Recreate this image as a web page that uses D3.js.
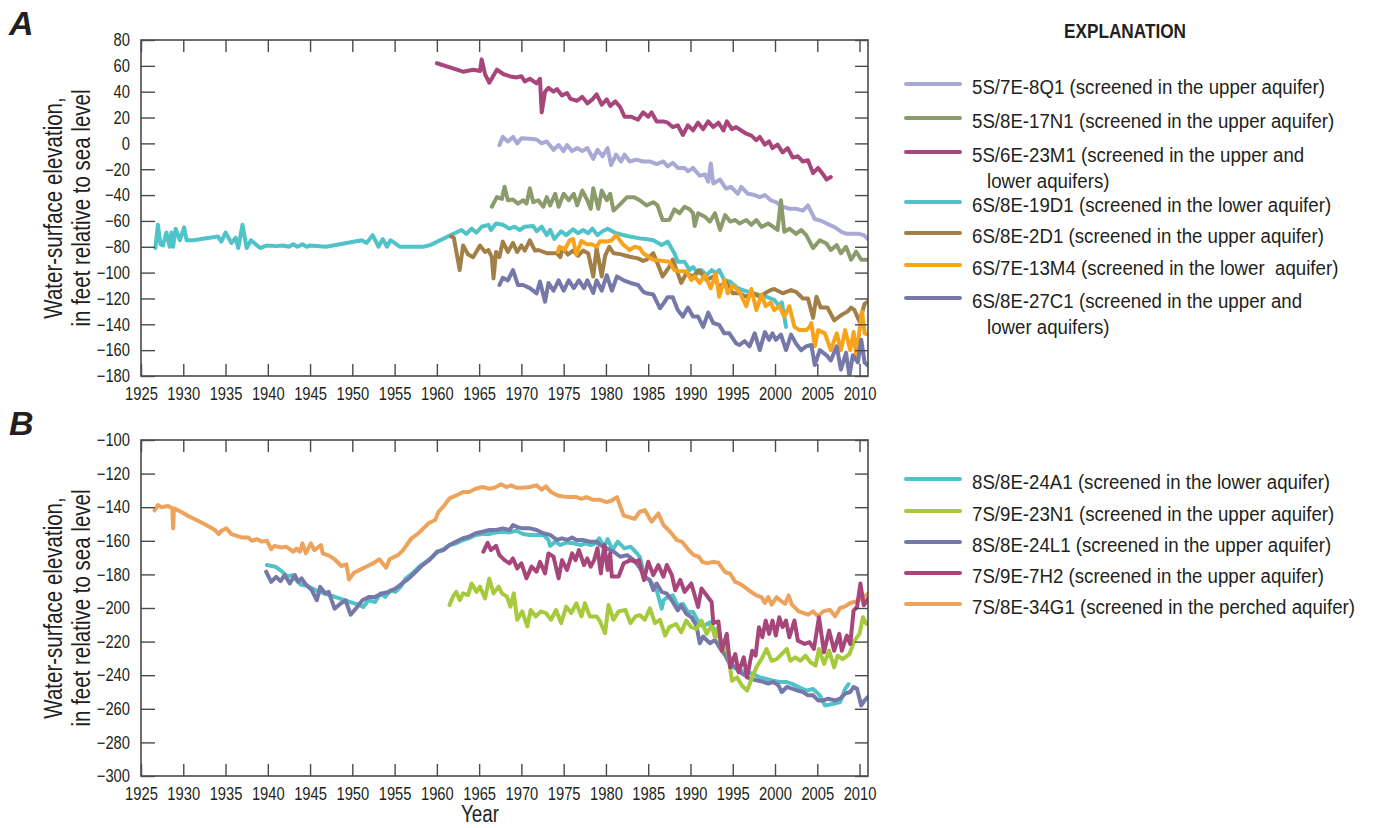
<!DOCTYPE html>
<html>
<head>
<meta charset="utf-8">
<script src="https://cdn.jsdelivr.net/npm/d3@7"></script>
<style>
  html, body { margin: 0; padding: 0; background: #fff; }
  svg text { fill: #231f20; font-family: "Liberation Sans", Arial, sans-serif; }
</style>
</head>
<body>
<svg id="chart" width="1374" height="828"></svg>
<script>
// ---- Water-level records, panel A (year, feet relative to sea level) ----
const w5S7E8Q1 = [[1967.4,-1.3],[1967.8,5],[1968.4,1.5],[1969.0,5],[1969.5,0],[1970.0,4],[1971.0,3.5],[1971.8,3],[1972.4,0],[1973.0,1.5],[1973.8,-5],[1974.4,-1.3],[1975.0,-6],[1975.4,-1.3],[1976.0,-6],[1976.6,-3.6],[1977.2,-6],[1977.8,-3.6],[1978.5,-12],[1979.0,-5],[1979.6,-10],[1980.2,-3.6],[1980.6,-16.8],[1981.2,-8.7],[1981.8,-14],[1982.2,-8.7],[1982.8,-14],[1983.6,-12.6],[1984.4,-14],[1985.2,-14],[1986.0,-16],[1986.8,-14],[1987.3,-17.8],[1987.9,-15],[1988.5,-19],[1989.3,-19],[1989.7,-21.6],[1990.3,-19],[1991.1,-25],[1991.7,-24],[1992.1,-29.6],[1992.4,-15.5],[1992.7,-31],[1993.5,-28],[1994.2,-35],[1994.8,-33.6],[1995.6,-39],[1996.0,-33.6],[1996.8,-39],[1997.6,-40],[1998.2,-41.6],[1998.8,-40],[1999.5,-44],[2000.1,-45.5],[2000.9,-49],[2001.7,-50.6],[2002.5,-50.6],[2003.3,-52],[2003.9,-48],[2004.7,-58.5],[2005.5,-60],[2006.3,-62.6],[2007.1,-65],[2007.9,-68.7],[2008.5,-70],[2009.3,-70],[2009.9,-70],[2010.5,-71],[2011,-74]];
const w5S8E17N1 = [[1966.5,-49],[1967.1,-41.6],[1967.7,-43],[1968.0,-33.6],[1968.4,-44],[1969.0,-43.5],[1969.6,-46.6],[1970.2,-44],[1970.6,-46.6],[1971.0,-34.8],[1971.4,-45.5],[1972.0,-44],[1972.6,-49],[1973.0,-41.6],[1973.4,-48],[1974.0,-39],[1974.4,-49],[1975.0,-39],[1975.6,-44],[1976.2,-39],[1976.6,-48],[1977.2,-36.5],[1977.8,-44],[1978.2,-50.6],[1978.5,-34.8],[1979.1,-50.6],[1979.5,-36.5],[1980.1,-44],[1980.5,-39],[1980.9,-52],[1981.7,-47],[1982.5,-41.6],[1983.3,-41.6],[1984.0,-44],[1984.8,-48],[1985.6,-45.5],[1986.1,-48],[1986.7,-59.3],[1987.5,-59.3],[1988.1,-51],[1988.7,-54],[1989.3,-49],[1989.9,-51],[1990.3,-54],[1990.5,-64],[1990.9,-54],[1991.7,-56.7],[1992.3,-60.5],[1992.9,-54],[1993.5,-67],[1994.1,-55.5],[1994.7,-60.5],[1995.3,-59.3],[1995.8,-62],[1996.6,-59.3],[1997.2,-63],[1997.8,-59.3],[1998.4,-64.6],[1999.2,-62],[1999.8,-64.6],[2000.3,-67],[2000.7,-44],[2001.1,-68.4],[2001.7,-66],[2002.5,-70],[2003.1,-67],[2003.7,-71],[2004.5,-81],[2005.3,-75],[2006.1,-77.5],[2006.6,-82.5],[2007.3,-78.7],[2007.8,-85],[2008.4,-80],[2009.0,-90],[2009.6,-83.8],[2010.2,-90],[2011,-90]];
const w5S6E23M1 = [[1960.0,62],[1963.1,55.5],[1964.3,57],[1965.1,56],[1965.3,65],[1965.7,53.5],[1966.2,47],[1967.1,57],[1967.9,53.5],[1968.6,52],[1969.4,51],[1970.0,52],[1970.4,48],[1971.0,50],[1971.8,46.5],[1972.2,50],[1972.4,24],[1972.8,40],[1973.2,43],[1973.8,40],[1974.2,42],[1974.8,37],[1975.4,39],[1975.8,34.5],[1976.6,33],[1977.2,36],[1977.8,31],[1978.4,34],[1978.9,38],[1979.5,30],[1980.1,34],[1980.5,29],[1981.1,32.5],[1981.7,28],[1982.2,20.6],[1983.0,20.6],[1983.8,18.3],[1984.4,24],[1985.0,20.6],[1985.4,24],[1986.0,17],[1986.8,17],[1987.3,16],[1987.9,12.6],[1988.5,14],[1989.1,6.5],[1989.7,14],[1990.3,10],[1990.9,16],[1991.5,11],[1992.1,17],[1992.7,12.6],[1993.3,16],[1993.9,10],[1994.3,17],[1994.9,11],[1995.4,12.6],[1996.0,10],[1996.6,7.5],[1997.2,6],[1997.8,2.5],[1998.2,5],[1998.8,-1],[1999.3,1.5],[1999.7,-3.6],[2000.3,-1],[2000.9,-7],[2001.5,-3.6],[2002.1,-11],[2002.7,-10],[2003.3,-14],[2003.9,-13],[2004.5,-23],[2005.1,-19],[2005.7,-24],[2006.1,-28],[2006.6,-26]];
const w6S8E19D1 = [[1926.7,-81],[1927.0,-63],[1927.3,-78],[1927.6,-79],[1928.0,-69],[1928.4,-80],[1928.6,-69],[1928.8,-80],[1929.1,-66],[1929.6,-75],[1930.1,-65],[1930.4,-75],[1931.2,-75],[1934.1,-72],[1934.5,-76],[1935.0,-69],[1935.7,-77],[1936.2,-73],[1936.5,-81],[1937.0,-63],[1937.5,-81],[1938.0,-75],[1939.1,-81],[1939.9,-79],[1941.0,-79.5],[1941.8,-79],[1942.5,-80],[1943.0,-78],[1943.5,-80],[1944.1,-78],[1944.6,-80],[1945.0,-79],[1946.9,-80],[1951.1,-75],[1951.7,-77],[1952.4,-71],[1953.1,-80],[1953.6,-74],[1954.1,-80],[1954.5,-75],[1955.0,-77],[1955.6,-80],[1958.4,-80],[1959.2,-78.7],[1962.9,-67],[1963.5,-70],[1964.1,-66],[1964.7,-69],[1965.3,-64.5],[1966.1,-63],[1966.4,-67],[1967.0,-62],[1967.8,-63],[1968.6,-66],[1969.2,-64.5],[1969.8,-67],[1970.4,-64.5],[1971.4,-64],[1971.8,-68],[1972.4,-64.5],[1973.0,-71],[1973.4,-67],[1973.9,-74],[1974.7,-68],[1975.3,-71],[1976.1,-66.5],[1976.7,-69.5],[1977.3,-67],[1977.9,-69.5],[1978.4,-66],[1979.0,-71],[1979.6,-68],[1980.2,-66],[1981.2,-69.5],[1982.8,-72],[1984.0,-73.5],[1984.7,-74],[1985.6,-75],[1986.6,-78.7],[1987.3,-76],[1988.1,-85],[1988.5,-91.6],[1989.3,-91.6],[1989.9,-98],[1990.3,-95.7],[1990.9,-100.6],[1991.3,-98],[1991.9,-102],[1992.5,-98],[1993.0,-100.6],[1993.4,-98],[1994.0,-105.8],[1994.7,-107],[1995.4,-111],[1995.8,-112.7],[1997.4,-116],[1999.0,-118.7],[1999.9,-121],[2000.5,-126],[2000.8,-123],[2001.1,-134],[2001.3,-142]];
const w6S8E2D1 = [[1961.7,-72],[1962.0,-73],[1962.7,-98],[1963.1,-79],[1963.7,-86],[1964.3,-88],[1965.1,-79],[1965.7,-84],[1966.1,-82.5],[1966.5,-88],[1966.7,-104.5],[1967.0,-84],[1967.4,-88],[1967.8,-76],[1968.4,-84],[1969.0,-77],[1969.5,-84],[1970.0,-79],[1970.4,-83],[1971.0,-75],[1971.6,-83],[1972.0,-82.5],[1973.0,-85],[1973.6,-85],[1974.2,-85],[1974.6,-88],[1974.9,-81],[1975.5,-86],[1976.1,-83],[1976.7,-87],[1977.3,-83],[1977.9,-85],[1978.5,-103],[1978.9,-81],[1979.5,-103],[1979.9,-87],[1980.4,-80],[1980.9,-85],[1981.7,-85.7],[1982.8,-87.7],[1983.8,-89],[1984.4,-91],[1984.8,-90],[1985.6,-85],[1986.1,-93],[1986.7,-103],[1987.5,-95.5],[1987.9,-90],[1988.5,-100.6],[1988.9,-108],[1989.5,-100.6],[1990.3,-103],[1991.0,-98],[1991.9,-105.8],[1992.7,-103],[1993.4,-111],[1994.2,-107],[1995.0,-116],[1995.8,-116],[1996.6,-118.7],[1997.4,-116],[1998.2,-118.7],[1998.8,-116],[1999.5,-113.5],[1999.9,-112.7],[2000.9,-116],[2001.9,-113.5],[2002.5,-115],[2003.3,-120],[2003.9,-120],[2004.5,-135],[2004.9,-118.7],[2005.4,-127],[2006.2,-127],[2007.0,-137],[2007.8,-133],[2008.6,-130],[2009.0,-127],[2009.4,-129],[2010.0,-138],[2010.6,-124],[2011,-122.5]];
const w6S7E13M4 = [[1974.3,-84],[1974.5,-80],[1975.1,-82.5],[1975.7,-75],[1976.1,-74],[1976.5,-86],[1977.1,-75.5],[1977.7,-78],[1978.3,-78],[1978.9,-80],[1979.3,-75.7],[1980.1,-76],[1980.7,-75],[1981.2,-71],[1982.0,-78],[1982.8,-82.5],[1983.4,-80],[1984.0,-81],[1984.4,-85],[1985.6,-90],[1987.5,-91.6],[1988.1,-98],[1988.7,-99],[1989.5,-99],[1990.1,-105.8],[1990.5,-103],[1991.1,-108],[1991.7,-102],[1992.4,-112],[1993.0,-101],[1993.4,-118.7],[1994.0,-105.8],[1994.4,-116],[1995.0,-110],[1995.8,-115],[1996.6,-126],[1997.2,-112.7],[1997.8,-129],[1998.4,-117],[1998.9,-126],[1999.5,-123],[1999.9,-129],[2000.5,-126],[2001.1,-134],[2001.7,-126],[2002.3,-142],[2002.9,-144.5],[2003.7,-144.5],[2004.1,-142],[2004.3,-139],[2004.7,-157],[2005.1,-144.5],[2005.9,-147],[2006.6,-160],[2007.3,-147],[2007.8,-160],[2008.3,-144.5],[2008.9,-160],[2009.3,-146],[2009.6,-164],[2010.3,-130],[2010.6,-147],[2011,-148]];
const w6S8E27C1 = [[1967.4,-109.6],[1967.8,-104],[1968.4,-106],[1969.0,-98],[1969.6,-109.6],[1970.2,-109.6],[1971.0,-112],[1971.8,-116],[1972.2,-107],[1972.8,-122.5],[1973.2,-108],[1973.8,-114],[1974.4,-106],[1975.0,-114],[1975.6,-106],[1976.2,-112],[1976.8,-106],[1977.4,-112],[1977.8,-106],[1978.5,-115.7],[1978.9,-106],[1979.5,-114],[1980.1,-102],[1980.7,-114],[1981.3,-103],[1982.1,-106],[1982.9,-108],[1983.8,-109.6],[1984.4,-114.7],[1984.8,-116],[1985.6,-117],[1986.4,-127.6],[1986.8,-124],[1987.3,-119],[1987.9,-119],[1988.5,-129],[1989.1,-134],[1989.7,-127],[1990.3,-134],[1990.9,-134],[1991.5,-142],[1992.1,-131],[1992.7,-139],[1993.4,-140.5],[1994.0,-147],[1994.6,-147],[1995.4,-154.8],[1995.8,-156],[1996.4,-153],[1997.0,-157],[1997.6,-147],[1998.2,-160],[1998.8,-146],[1999.3,-152],[1999.7,-147],[2000.1,-152],[2000.7,-148],[2001.3,-160],[2001.9,-148],[2002.5,-155],[2003.1,-160],[2003.7,-157],[2004.3,-156],[2004.7,-171.5],[2005.3,-160],[2006.1,-164],[2006.6,-168],[2007.3,-157],[2007.8,-175],[2008.4,-162],[2008.8,-180],[2009.2,-164],[2009.8,-169.5],[2010.2,-152],[2010.6,-169.5],[2011,-172]];

// ---- Water-level records, panel B ----
const w8S8E24A1 = [[1939.9,-174.4],[1940.9,-175.4],[1941.7,-178.4],[1942.3,-181.3],[1942.9,-180.4],[1943.3,-183],[1943.9,-186],[1944.7,-187],[1945.9,-190],[1947.1,-192],[1948.3,-194],[1949.5,-196],[1950.7,-198],[1951.3,-199.4],[1951.9,-195.4],[1952.7,-196.4],[1953.3,-191.4],[1953.9,-193.4],[1954.5,-189.4],[1955.1,-190.4],[1955.7,-187.4],[1956.3,-182.5],[1957.1,-179.4],[1957.9,-175.4],[1958.7,-172.5],[1959.5,-169.5],[1960.1,-166.5],[1960.8,-165],[1961.5,-162.5],[1962.3,-161.5],[1963.1,-159.5],[1963.8,-158.5],[1964.6,-156.5],[1965.4,-156],[1966.2,-156],[1967.0,-155],[1967.8,-154.6],[1968.6,-155],[1969.4,-154],[1970.2,-156],[1971.0,-156.5],[1971.8,-156.5],[1972.6,-156.5],[1973.2,-159.5],[1973.4,-163],[1974.0,-160.5],[1974.6,-162.5],[1975.4,-161],[1976.2,-161.5],[1977.0,-162.5],[1977.6,-161.5],[1978.2,-162.5],[1978.8,-161.5],[1979.2,-158.5],[1979.8,-163.5],[1980.2,-159],[1980.8,-165.5],[1981.4,-160.5],[1982.2,-164.5],[1982.9,-163.5],[1983.5,-166.5],[1984.0,-169.5],[1984.6,-181.5],[1985.2,-183.5],[1986.0,-189.4],[1986.6,-200.4],[1986.8,-195.4],[1987.3,-193.5],[1987.9,-192.5],[1988.5,-198.4],[1989.1,-197.5],[1989.7,-202.4],[1990.3,-202.4],[1990.9,-208],[1991.5,-211],[1992.3,-208.5],[1993.1,-215],[1993.9,-221.4],[1994.5,-227.4],[1995.1,-235.3],[1995.8,-237.3],[1996.6,-238],[1997.4,-239.3],[1998.2,-241.3],[1999.0,-242.3],[1999.8,-243.3],[2000.5,-244],[2001.3,-244],[2002.1,-245.3],[2002.9,-247.3],[2003.7,-249.2],[2004.5,-248.2],[2005.3,-252],[2005.9,-258],[2006.9,-257],[2007.7,-256],[2008.3,-248.2],[2008.7,-245.3]];
const w7S9E23N1 = [[1961.5,-198.2],[1961.9,-193.3],[1962.3,-190.4],[1962.7,-195.3],[1963.1,-191.3],[1963.7,-192.3],[1964.1,-185.4],[1964.7,-190.4],[1965.1,-187.3],[1965.7,-194.3],[1966.2,-182.5],[1966.7,-191.3],[1967.3,-187.3],[1967.7,-191.3],[1968.3,-193.3],[1968.7,-199.2],[1969.1,-191.3],[1969.5,-207],[1970.1,-202],[1970.7,-211],[1971.1,-201.2],[1971.7,-205],[1972.3,-202],[1972.9,-203],[1973.5,-207],[1974.1,-201.2],[1974.7,-209],[1975.3,-199.2],[1975.9,-203],[1976.5,-197.2],[1977.1,-205],[1977.5,-197.2],[1978.1,-205],[1978.9,-205],[1979.3,-208],[1979.9,-215],[1980.3,-198.2],[1980.9,-207],[1981.5,-202],[1982.3,-201.2],[1982.9,-209],[1983.5,-205],[1984.0,-204.2],[1984.6,-207],[1985.2,-200.2],[1985.8,-209],[1986.4,-207],[1987.0,-216.4],[1987.5,-211.4],[1988.3,-209.5],[1988.9,-214.4],[1989.5,-207.5],[1990.1,-211.4],[1990.7,-212.4],[1991.3,-207.5],[1991.9,-215.4],[1992.5,-210.4],[1992.9,-217.4],[1993.3,-211.4],[1993.7,-225.4],[1994.3,-221.4],[1994.9,-243.3],[1995.5,-241.3],[1996.1,-246.2],[1996.7,-249.2],[1997.3,-241.3],[1997.8,-235.3],[1998.4,-230.4],[1999.0,-224.4],[1999.6,-231.4],[2000.2,-230.4],[2000.8,-227.4],[2001.4,-224.4],[2001.8,-231.4],[2002.4,-229.4],[2003.0,-231.4],[2003.6,-228.4],[2004.2,-232.3],[2004.8,-234.3],[2005.2,-224.4],[2005.8,-233.3],[2006.4,-225.4],[2007.0,-235.3],[2007.4,-228.4],[2008.0,-230.4],[2008.8,-227.4],[2009.4,-219.4],[2010.0,-215.4],[2010.4,-205.5],[2010.8,-209.5],[2011,-209.5]];
const w8S8E24L1 = [[1939.8,-178.4],[1940.4,-184.4],[1941.0,-181.5],[1941.5,-184],[1942.0,-180.4],[1942.6,-185.4],[1943.2,-180.4],[1943.6,-184.4],[1944.0,-182.4],[1944.4,-185.4],[1945.2,-189.4],[1945.8,-195.4],[1946.2,-187.4],[1946.8,-191.4],[1947.2,-190.4],[1947.9,-200.4],[1948.6,-197.4],[1949.2,-195.4],[1949.8,-204],[1950.4,-200.4],[1951.2,-195.4],[1952.0,-193.4],[1952.7,-193.4],[1953.5,-191.4],[1954.3,-190.4],[1955.1,-188.4],[1955.9,-185.4],[1956.7,-182.4],[1957.5,-178.4],[1958.3,-174.5],[1959.1,-171.5],[1960.0,-166.5],[1960.8,-165.5],[1961.5,-162.5],[1962.3,-160.5],[1963.1,-158.5],[1963.8,-157.5],[1964.6,-155.5],[1965.4,-154.6],[1966.2,-153.6],[1967.0,-153.6],[1967.8,-152.6],[1968.6,-153.6],[1969.0,-150.6],[1969.6,-152],[1970.2,-152.6],[1971.0,-152.6],[1971.8,-153.6],[1972.6,-155.5],[1973.4,-156.5],[1974.2,-159.5],[1974.8,-158.5],[1975.4,-159.5],[1976.0,-158],[1976.5,-159.5],[1977.3,-159.5],[1978.1,-160.5],[1978.9,-160.5],[1979.3,-162.5],[1980.1,-164.5],[1980.9,-166.5],[1981.7,-169.5],[1982.5,-168.5],[1983.3,-171.5],[1984.0,-176],[1984.6,-181.5],[1985.2,-183.5],[1985.6,-189.4],[1986.0,-185.4],[1986.6,-190.4],[1987.2,-191.4],[1987.9,-196.4],[1988.5,-201.4],[1988.9,-198.4],[1989.5,-203.4],[1990.1,-205.4],[1990.7,-210.4],[1991.1,-221],[1991.5,-217],[1992.3,-221],[1992.9,-219],[1993.5,-224],[1994.1,-228],[1994.7,-234],[1995.3,-235],[1995.8,-238],[1996.4,-240],[1997.0,-242],[1997.8,-243],[1998.6,-244],[1999.2,-245],[1999.8,-244],[2000.4,-246],[2000.8,-250],[2001.4,-247],[2002.0,-248],[2002.6,-249],[2003.3,-250],[2003.9,-252],[2004.5,-252],[2005.1,-255],[2005.7,-255],[2006.3,-254],[2007.1,-255],[2007.7,-254],[2008.3,-251],[2008.9,-250],[2009.3,-247],[2009.7,-248],[2010.2,-258],[2010.6,-255],[2011,-253]];
const w7S9E7H2 = [[1965.5,-166.5],[1966.0,-161.2],[1966.4,-165.5],[1967.0,-163],[1967.4,-168.5],[1968.0,-171.5],[1968.6,-173.4],[1969.0,-170.5],[1969.5,-176.4],[1970.0,-173.4],[1970.6,-182.3],[1971.2,-175.4],[1971.8,-178.4],[1972.2,-172.5],[1972.8,-179.4],[1973.2,-167.5],[1973.8,-169.5],[1974.4,-182.3],[1974.8,-171.5],[1975.4,-177.4],[1976.0,-167.5],[1976.4,-171.5],[1976.8,-165.5],[1977.4,-174.4],[1977.8,-170.5],[1978.2,-175.4],[1978.6,-171.5],[1979.0,-164.5],[1979.4,-179.4],[1979.8,-162.5],[1980.2,-177.4],[1980.5,-167.5],[1980.7,-181.3],[1981.5,-181.3],[1982.1,-173.4],[1982.9,-171.5],[1983.5,-172.5],[1983.9,-171.5],[1984.5,-183.3],[1985.0,-172.5],[1985.6,-180.4],[1986.2,-174.4],[1986.8,-181.3],[1987.2,-174.4],[1987.8,-180.4],[1988.2,-189.4],[1988.8,-183.3],[1989.3,-190.4],[1990.1,-185.4],[1990.5,-192.4],[1990.9,-199.4],[1991.3,-188.4],[1991.9,-192.4],[1992.5,-196.4],[1992.7,-209],[1993.3,-208],[1993.7,-225.4],[1994.3,-215.4],[1994.7,-235.3],[1995.3,-227.4],[1995.7,-238.3],[1996.3,-229.4],[1996.7,-241.3],[1997.3,-225.4],[1997.7,-228.4],[1998.1,-211.4],[1998.5,-217.4],[1998.9,-207.5],[1999.3,-215.4],[1999.7,-207.5],[2000.1,-216.4],[2000.5,-205.5],[2000.9,-211.4],[2001.3,-207.5],[2001.7,-217.4],[2002.3,-207.5],[2002.7,-219.4],[2003.5,-221.4],[2004.1,-220.4],[2004.6,-224.4],[2005.2,-205.5],[2005.8,-226.4],[2006.4,-213.4],[2007.0,-225.4],[2007.6,-215.4],[2007.9,-225.4],[2008.5,-216.4],[2008.9,-221.4],[2009.3,-201.5],[2009.7,-199.4],[2010.1,-185.4],[2010.5,-198.4],[2011,-194.5]];
const w7S8E34G1 = [[1926.6,-142],[1927.0,-138.7],[1927.4,-140],[1928.2,-139.3],[1928.7,-140.7],[1928.8,-152.6],[1928.9,-140.7],[1929.7,-142.7],[1930.5,-145],[1931.3,-147],[1932.5,-150],[1933.7,-153.4],[1934.2,-156],[1934.5,-154],[1935.1,-152.6],[1935.7,-156],[1936.9,-158],[1937.7,-158],[1938.1,-160],[1938.7,-159],[1939.3,-160.5],[1939.9,-160],[1940.4,-165],[1940.8,-163],[1941.6,-164],[1942.2,-163.6],[1943.0,-166.5],[1943.4,-164.6],[1943.8,-166.5],[1944.1,-161.5],[1944.5,-167.5],[1945.1,-161.5],[1945.5,-165.6],[1946.3,-162.5],[1946.5,-167.5],[1947.3,-169],[1947.9,-171],[1948.7,-175],[1949.3,-174],[1949.6,-183],[1950.2,-179],[1951.0,-177],[1951.8,-175],[1952.6,-173],[1953.2,-171],[1954.0,-176],[1954.4,-171],[1955.4,-168.5],[1956.0,-165.6],[1957.0,-158.5],[1957.8,-155.6],[1959.0,-149.6],[1959.8,-147.6],[1960.2,-142.7],[1960.8,-139.5],[1961.5,-134.7],[1962.3,-133],[1963.1,-131],[1963.8,-131],[1964.6,-129],[1965.4,-128],[1966.2,-129],[1966.8,-128.4],[1967.6,-126.4],[1968.2,-128],[1968.8,-127],[1969.4,-128.4],[1970.2,-128.4],[1971.0,-128],[1971.8,-127],[1972.4,-129.6],[1972.9,-127.6],[1973.5,-131],[1974.3,-133],[1974.9,-133.6],[1975.7,-134],[1976.5,-134],[1977.1,-135],[1977.7,-134],[1978.5,-135.6],[1979.3,-135.6],[1980.1,-137],[1980.7,-136],[1981.3,-134],[1982.1,-145],[1982.8,-146],[1983.4,-147],[1984.0,-142.7],[1984.6,-141.7],[1985.4,-148.6],[1986.2,-143.7],[1986.8,-150.6],[1987.6,-154.6],[1988.4,-159.6],[1989.0,-160.6],[1989.8,-165.6],[1990.4,-168.5],[1991.0,-169.5],[1991.4,-172.5],[1992.0,-173.4],[1992.6,-172.5],[1993.3,-173],[1994.1,-178.6],[1994.7,-179.6],[1995.3,-184.5],[1995.8,-185.5],[1996.4,-187.5],[1997.2,-190.5],[1997.8,-192.5],[1998.4,-193.5],[1998.8,-197],[1999.2,-193.5],[1999.6,-198],[2000.2,-193.5],[2000.6,-195.5],[2001.2,-197.5],[2001.6,-192.5],[2002.0,-198],[2002.8,-202],[2003.4,-203],[2003.9,-204],[2004.5,-202],[2005.1,-205],[2005.7,-202],[2006.5,-201],[2007.1,-205],[2007.7,-200],[2008.3,-199],[2008.9,-197],[2009.7,-196],[2010.5,-193.5],[2011,-191.5]];

// ---- Legend entries and axis ticks ----
const wellsA = [
  { lines: ["5S/7E-8Q1 (screened in the upper aquifer)"], data: w5S7E8Q1, color: "#aaa8d4" },
  { lines: ["5S/8E-17N1 (screened in the upper aquifer)"], data: w5S8E17N1, color: "#8b9b6c" },
  { lines: ["5S/6E-23M1 (screened in the upper and", "lower aquifers)"], data: w5S6E23M1, color: "#a7467b" },
  { lines: ["6S/8E-19D1 (screened in the lower aquifer)"], data: w6S8E19D1, color: "#50c3c9" },
  { lines: ["6S/8E-2D1 (screened in the upper aquifer)"], data: w6S8E2D1, color: "#a27f46" },
  { lines: ["6S/7E-13M4 (screened in the lower  aquifer)"], data: w6S7E13M4, color: "#f7a31c" },
  { lines: ["6S/8E-27C1 (screened in the upper and", "lower aquifers)"], data: w6S8E27C1, color: "#7578a9" }
];
const wellsB = [
  { lines: ["8S/8E-24A1 (screened in the lower aquifer)"], data: w8S8E24A1, color: "#50c3c9" },
  { lines: ["7S/9E-23N1 (screened in the upper aquifer)"], data: w7S9E23N1, color: "#a6ca3b" },
  { lines: ["8S/8E-24L1 (screened in the upper aquifer)"], data: w8S8E24L1, color: "#7578a9" },
  { lines: ["7S/9E-7H2 (screened in the upper aquifer)"], data: w7S9E7H2, color: "#a7467b" },
  { lines: ["7S/8E-34G1 (screened in the perched aquifer)"], data: w7S8E34G1, color: "#eea35c" }
];
// drawing order (back to front)
const orderA = [3, 0, 1, 2, 4, 5, 6];
const orderB = [4, 0, 2, 1, 3];
const yearTicks = d3.range(1925, 2011, 5);
const ticksA = d3.range(-180, 81, 20);
const ticksB = d3.range(-300, -99, 20);
const legendRowsA = [84, 118, 152, 202, 233, 265, 298];
const legendRowsB = [479, 511, 542, 573, 604];

// horizontal squeeze giving the condensed type look
const SQ = 0.82;

const svg = d3.select("#chart");
const plotW = 727, plotH = 336, left = 141;
const x = d3.scaleLinear().domain([1925, 2011]).range([0, plotW]);
const fmt = d3.format("d");

// text placed at (px, py), squeezed horizontally about its anchor point
function narrowText(parent, px, py, str, size, opts = {}) {
  const sq = opts.squeeze || SQ;
  const g = parent.append("g")
    .attr("transform", `translate(${px},${py})${opts.rotate ? " rotate(" + opts.rotate + ")" : ""} scale(${sq},1)`);
  return g.append("text")
    .attr("font-size", size)
    .attr("text-anchor", opts.anchor || "start")
    .attr("font-weight", opts.weight || "normal")
    .attr("xml:space", "preserve")
    .text(str);
}

function panel(top, yDomain, yTicks, wells, order, letter, id) {
  const y = d3.scaleLinear().domain(yDomain).range([plotH, 0]);
  const g = svg.append("g").attr("transform", `translate(${left},${top})`);

  g.append("clipPath").attr("id", id).append("rect")
    .attr("width", plotW).attr("height", plotH);

  const line = d3.line().x(d => x(d[0])).y(d => y(d[1]));
  const lines = g.append("g").attr("clip-path", `url(#${id})`);
  order.forEach(i => {
    lines.append("path").datum(wells[i].data)
      .attr("d", line)
      .attr("fill", "none")
      .attr("stroke", wells[i].color)
      .attr("stroke-width", 4)
      .attr("stroke-linejoin", "round")
      .attr("stroke-linecap", "round");
  });

  const tickStyle = sel => {
    sel.select(".domain").remove();
    sel.selectAll(".tick line").attr("stroke", "#4a4a4a").attr("stroke-width", 1.4);
    sel.selectAll("text").attr("font-size", 18).attr("font-family", null).attr("fill", "#231f20");
  };
  const bottom = g.append("g").attr("transform", `translate(0,${plotH})`)
    .call(d3.axisBottom(x).tickValues(yearTicks).tickFormat(fmt).tickSize(-12).tickPadding(11))
    .call(tickStyle);
  bottom.selectAll(".tick text").attr("transform", `scale(${SQ},1)`);

  g.append("g")
    .call(d3.axisTop(x).tickValues(yearTicks).tickFormat("").tickSize(-12))
    .call(tickStyle);

  const leftAx = g.append("g")
    .call(d3.axisLeft(y).tickValues(yTicks).tickSize(-14).tickPadding(11))
    .call(tickStyle);
  leftAx.selectAll(".tick text").attr("x", -11 / SQ).attr("transform", `scale(${SQ},1)`);

  g.append("g").attr("transform", `translate(${plotW},0)`)
    .call(d3.axisRight(y).tickValues(yTicks).tickFormat("").tickSize(-13))
    .call(tickStyle);

  g.append("rect").attr("width", plotW).attr("height", plotH)
    .attr("fill", "none").attr("stroke", "#4a4a4a").attr("stroke-width", 1.6);

  // rotated axis title, two lines
  narrowText(svg, 62, top + plotH / 2, "Water-surface elevation,", 25, { rotate: -90, anchor: "middle" });
  narrowText(svg, 90, top + plotH / 2, "in feet relative to sea level", 25, { rotate: -90, anchor: "middle" });

  svg.append("text").attr("x", 9).attr("y", top - 5)
    .attr("font-weight", "bold").attr("font-style", "italic")
    .attr("font-size", 34).text(letter);
}

panel(40, [-180, 80], ticksA, wellsA, orderA, "A", "clipA");
panel(440, [-300, -100], ticksB, wellsB, orderB, "B", "clipB");

narrowText(svg, 480, 822, "Year", 23, { anchor: "middle" });
narrowText(svg, 1125, 38, "EXPLANATION", 21, { anchor: "middle", weight: "bold" });

function legend(wells, rows) {
  wells.forEach((w, i) => {
    const ry = rows[i];
    svg.append("line").attr("x1", 906).attr("x2", 960).attr("y1", ry).attr("y2", ry)
      .attr("stroke", w.color).attr("stroke-width", 4).attr("stroke-linecap", "round");
    w.lines.forEach((t, j) => {
      narrowText(svg, j === 0 ? 972 : 987, ry + 10 + j * 26, t, 21, { squeeze: 0.89 });
    });
  });
}
legend(wellsA, legendRowsA);
legend(wellsB, legendRowsB);
</script>
</body>
</html>
